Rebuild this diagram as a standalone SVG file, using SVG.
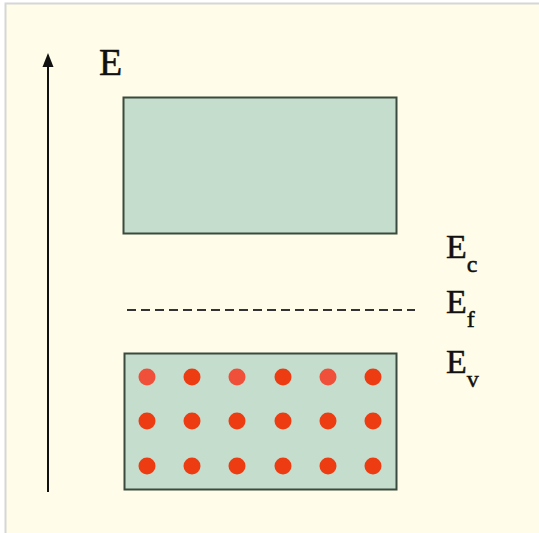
<svg xmlns="http://www.w3.org/2000/svg" width="539" height="533" viewBox="0 0 539 533">
<style>
.band{fill:#c5ddcc;stroke:#3a4a3e;stroke-width:2}
.lbl{font-family:"Liberation Serif",serif;font-size:34px;fill:#111;stroke:#111;stroke-width:0.5}
.sub{font-family:"Liberation Serif",serif;font-size:24px;fill:#111}
.e{fill:#ee3c12}
.e2{fill:#f0503a}
</style>
<rect x="0" y="0" width="539" height="533" fill="#ffffff"/>
<rect x="5.5" y="3.5" width="540" height="540" fill="#fffde9" stroke="#d6d6d6" stroke-width="2"/>
<g id="connectors">
<line x1="48" y1="492" x2="48" y2="64" stroke="#111" stroke-width="2"/>
<polygon points="48,53 42.5,67 53.5,67" fill="#111"/>
<line x1="127" y1="310" x2="415" y2="310" stroke="#333" stroke-width="2" stroke-dasharray="9,5"/>
</g>
<g id="axis-label"><text class="lbl" x="99" y="75" style="font-size:38px">E</text></g>
<g id="conduction-band"><rect class="band" x="123.5" y="97.5" width="273" height="136"/></g>
<g id="valence-band">
<rect class="band" x="124.5" y="353.5" width="272" height="136"/>
<g>
<circle class="e2" cx="147" cy="377" r="8.5"/><circle class="e" cx="192" cy="377" r="8.5"/><circle class="e2" cx="237" cy="377" r="8.5"/><circle class="e" cx="283" cy="377" r="8.5"/><circle class="e2" cx="328" cy="377" r="8.5"/><circle class="e" cx="373" cy="377" r="8.5"/>
<circle class="e" cx="147" cy="421" r="8.5"/><circle class="e" cx="192" cy="421" r="8.5"/><circle class="e" cx="237" cy="421" r="8.5"/><circle class="e" cx="283" cy="421" r="8.5"/><circle class="e" cx="328" cy="421" r="8.5"/><circle class="e" cx="373" cy="421" r="8.5"/>
<circle class="e" cx="147" cy="466" r="8.5"/><circle class="e" cx="192" cy="466" r="8.5"/><circle class="e" cx="237" cy="466" r="8.5"/><circle class="e" cx="283" cy="466" r="8.5"/><circle class="e" cx="328" cy="466" r="8.5"/><circle class="e" cx="373" cy="466" r="8.5"/>
</g>
</g>
<g id="label-ec"><text class="lbl" x="446" y="258">E<tspan class="sub" dy="14">c</tspan></text></g>
<g id="label-ef"><text class="lbl" x="446" y="313">E<tspan class="sub" dy="14">f</tspan></text></g>
<g id="label-ev"><text class="lbl" x="446" y="373">E<tspan class="sub" dy="14">v</tspan></text></g>
</svg>
